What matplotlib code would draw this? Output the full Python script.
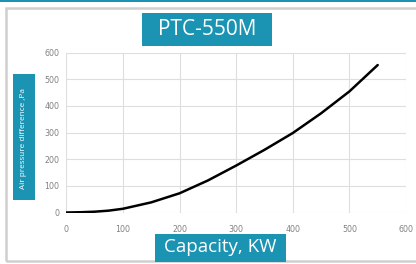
import matplotlib; matplotlib.use("Agg")
import matplotlib.pyplot as plt
from matplotlib.patches import Rectangle

capacity = [0, 25, 50, 75, 100, 150, 200, 250, 300, 350, 400, 450, 500, 550]
pressure = [0, 1, 3, 7, 14, 38, 72, 120, 176, 235, 298, 372, 454, 553]
xticks = [0, 100, 200, 300, 400, 500, 600]
yticks = [0, 100, 200, 300, 400, 500, 600]

W, H = 416, 264
TEAL = "#1b94b3"
FONT = ["Open Sans", "DejaVu Sans"]

fig = plt.figure(figsize=(W/100, H/100), dpi=100)

def box(x0, y0, x1, y1, **kw):
    # pixel coords (top-left origin) -> figure fraction
    fig.patches.append(Rectangle((x0/W, 1-y1/H), (x1-x0)/W, (y1-y0)/H,
                                 transform=fig.transFigure, **kw))

box(0, 0, W, 2, color=TEAL, lw=0)
box(6, 8, W+5, 261, fill=False, ec="#cfcfcf", lw=1.8)

ax = fig.add_axes([66.3/W, 1-212.5/H, (406-66.3)/W, 160/H])
ax.plot(capacity, pressure, color="black", lw=1.8, solid_capstyle="round")
ax.set_xlim(0, 600); ax.set_ylim(0, 600)
ax.set_xticks(xticks); ax.set_yticks(yticks)
ax.grid(True, color="#dedede", lw=0.8)
ax.set_axisbelow(True)
for s in ax.spines.values():
    s.set_visible(False)
ax.tick_params(length=0, labelsize=5.7, labelcolor="#808080", pad=5)
ax.tick_params(axis="x", pad=9)

box(142, 13, 272, 46, color=TEAL, lw=0)
fig.text(207/W, 1-29.5/H, "PTC-550M", color="white", fontsize=15, family=FONT,
         ha="center", va="center")

box(13, 74, 35, 200, color=TEAL, lw=0)
fig.text(24/W, 1-139/H, "Air pressure difference ,Pa", color="white", fontsize=5.9,
         family=FONT, rotation=90, ha="center", va="center")

box(155, 234, 286, 262, color=TEAL, lw=0)
fig.text(220.5/W, 1-247.5/H, "Capacity, KW", color="white", fontsize=13.5,
         family=FONT, ha="center", va="center")

fig.savefig("out.png", dpi=100)
